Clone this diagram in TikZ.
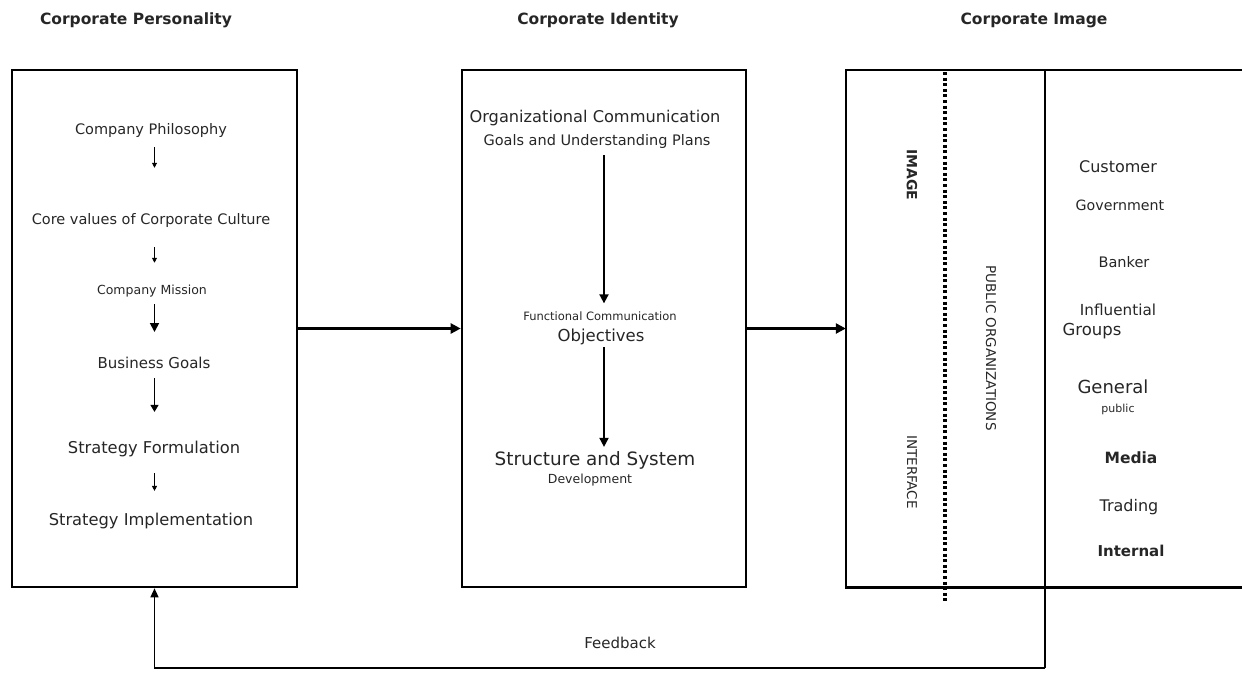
\documentclass[tikz,border=0pt]{standalone}
\usepackage{fontspec}
\setmainfont{DejaVu Sans}
\usetikzlibrary{arrows.meta}
\newcommand{\fs}[1]{\fontsize{#1}{#1}\selectfont}
\begin{document}
\begin{tikzpicture}[x=1pt,y=-1pt,
  boxline/.style={line width=2.6pt},
  bigarr/.style={-{Triangle[length=10pt,width=10pt]}, line width=2.4pt},
  midarr/.style={-{Triangle[length=9pt,width=9pt]}, line width=1.8pt},
  smallarr/.style={-{Triangle[length=5pt,width=5pt]}, line width=0.9pt},
  txt/.style={inner sep=1pt, text=black!85},
  ttl/.style={inner sep=1pt, font=\fs{15.5}\bfseries, text=black!85},
  vtxt/.style={inner sep=1pt, rotate=-90, text=black!85}]
\useasboundingbox (0,0) rectangle (1242,672);

% titles
\node[ttl] (t1) at (136,20) {Corporate Personality};
\node[ttl] (t2) at (598,20) {Corporate Identity};
\node[ttl] (t3) at (1034,20) {Corporate Image};

% boxes
\node[boxline, draw, minimum width=285pt, minimum height=517pt, inner sep=0pt] (lb) at (154.5,328.5) {};
\node[boxline, draw, minimum width=284pt, minimum height=517pt, inner sep=0pt] (mb) at (604,328.5) {};
\node[minimum width=396pt, minimum height=517pt, inner sep=0pt] (rb) at (1044,328.5) {};
\draw[boxline] (rb.north east) -- (rb.north west) -- (rb.south west) -- (rb.south east);

% inner lines of right box
\coordinate (vtop) at (1045,70);
\coordinate (fbc) at (1045,668);
\coordinate (dtop) at (945,72);
\coordinate (dbot) at (945,602);
\draw[line width=3.4pt, dash pattern=on 3pt off 2.6pt] (dtop) -- (dbot);
\draw[line width=2.4pt] (vtop) -- (rb.south -| vtop);
\draw[line width=1.4pt] (rb.south -| vtop) -- (fbc);

% feedback
\draw[line width=1.4pt, -{Triangle[length=9pt,width=8pt]}] (fbc) -- (fbc -| lb.south) -- (lb.south);
\node[txt, font=\fs{15}] (fb) at (620,643) {Feedback};

% connectors between boxes
\draw[bigarr] (lb.east) -- (mb.west);
\draw[bigarr] (mb.east) -- (rb.west);

% left box content
\node[txt, font=\fs{14.5}] (cp) at (151,130) {Company Philosophy};
\node[txt, font=\fs{14.5}] (cv) at (151,220) {Core values of Corporate Culture};
\node[txt, font=\fs{12.5}] (cm) at (152,291) {Company Mission};
\node[txt, font=\fs{15}] (bg) at (154,363) {Business Goals};
\node[txt, font=\fs{16.3}] (sf) at (154,449) {Strategy Formulation};
\node[txt, font=\fs{16.3}] (si) at (151,521) {Strategy Implementation};
\draw[smallarr, shorten <=9pt, shorten >=44pt] (cp.south -| lb.center) -- (cv.north -| lb.center);
\draw[smallarr, shorten <=19pt, shorten >=21pt] (cv.south -| lb.center) -- (cm.north -| lb.center);
\draw[midarr, shorten <=6pt, shorten >=24pt] (cm.south -| lb.center) -- (bg.north -| lb.center);
\draw[-{Triangle[length=7pt,width=8pt]}, line width=1.2pt, shorten <=8pt, shorten >=28pt] (bg.south -| lb.center) -- (sf.north -| lb.center);
\draw[smallarr, shorten <=15pt, shorten >=21pt] (sf.south -| lb.center) -- (si.north -| lb.center);

% middle box content
\node[txt, font=\fs{16.2}] (oc) at (595,118) {Organizational Communication};
\node[txt, font=\fs{14.5}] (gu) at (597,141) {Goals and Understanding Plans};
\node[txt, font=\fs{11.5}] (fc) at (600,316) {Functional Communication};
\node[txt, font=\fs{16.5}] (ob) at (601,337) {Objectives};
\node[txt, font=\fs{18.4}] (ss) at (595,460) {Structure and System};
\node[txt, font=\fs{12.5}] (dv) at (590,480) {Development};
\draw[midarr, shorten <=6pt, shorten >=7pt] (gu.south -| mb.center) -- (fc.north -| mb.center);
\draw[midarr, shorten <=1pt, shorten >=3pt] (ob.south -| mb.center) -- (ss.north -| mb.center);

% right box content
\node[vtxt, font=\fs{14}\bfseries] (im) at (912,175) {IMAGE};
\node[vtxt, font=\fs{13.5}] (it) at (912,472) {INTERFACE};
\node[vtxt, font=\fs{13.5}] (po) at (991,348) {PUBLIC ORGANIZATIONS};

\node[txt, font=\fs{16}] (cu) at (1118,167) {Customer};
\node[txt, font=\fs{14.2}] (go) at (1120,205) {Government};
\node[txt, font=\fs{14.5}] (ba) at (1124,262) {Banker};
\node[txt, font=\fs{15.2}] (in) at (1118,310) {Influential};
\node[txt, font=\fs{16.5}] (gr) at (1092,331) {Groups};
\node[txt, font=\fs{18}] (ge) at (1113,387) {General};
\node[txt, font=\fs{11}] (pu) at (1118,409) {public};
\node[txt, font=\fs{15.5}\bfseries] (me) at (1131,458) {Media};
\node[txt, font=\fs{16}] (tr) at (1129,507) {Trading};
\node[txt, font=\fs{15}\bfseries] (ir) at (1131,551) {Internal};
\end{tikzpicture}
\end{document}
